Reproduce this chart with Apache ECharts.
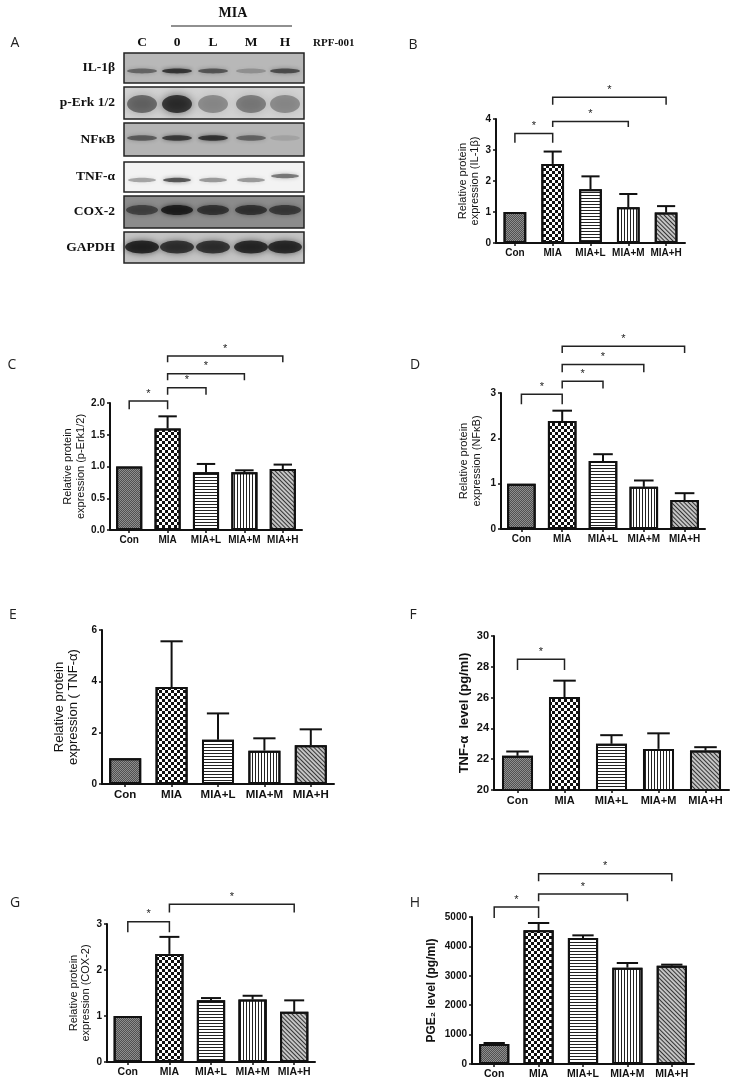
<!DOCTYPE html>
<html>
<head>
<meta charset="utf-8">
<script src="https://cdn.jsdelivr.net/npm/echarts@6/dist/echarts.min.js"></script>
<style>
html,body{margin:0;padding:0;background:#fff;}
#c{width:739px;height:1085px;}
</style>
</head>
<body>
<div id="c"></div>
<script>
// ---------- data ----------
const categories = ['Con', 'MIA', 'MIA+L', 'MIA+M', 'MIA+H'];

const bMean = [1.0, 2.55, 1.73, 1.15, 0.98];
const bErr  = [0, 0.40, 0.42, 0.43, 0.21];
const cMean = [1.0, 1.60, 0.91, 0.91, 0.96];
const cErr  = [0, 0.19, 0.13, 0.03, 0.07];
const dMean = [1.0, 2.38, 1.50, 0.93, 0.64];
const dErr  = [0, 0.23, 0.15, 0.14, 0.15];
const eMean = [1.0, 3.78, 1.72, 1.30, 1.51];
const eErr  = [0, 1.78, 1.03, 0.48, 0.62];
const fMean = [22.22, 26.04, 23.0, 22.67, 22.56];
const fErr  = [0.28, 1.06, 0.56, 1.01, 0.22];
const gMean = [1.0, 2.35, 1.34, 1.36, 1.09];
const gErr  = [0, 0.37, 0.05, 0.08, 0.25];
const hMean = [680, 4546, 4286, 3277, 3345];
const hErr  = [34, 250, 90, 158, 34];

// significance brackets: [fromIndex, toIndex, level, legEnd]
const bSig = [[0, 1, 3.53, 3.23], [1, 3, 3.92, 3.74], [1, 4, 4.70, 4.46]];
const cSig = [[0, 1, 2.03, 1.90], [1, 2, 2.24, 2.13], [1, 3, 2.46, 2.36], [1, 4, 2.74, 2.64]];
const dSig = [[0, 1, 2.97, 2.75], [1, 2, 3.26, 3.10], [1, 3, 3.63, 3.46], [1, 4, 4.03, 3.88]];
const eSig = [];
const fSig = [[0, 1, 28.49, 27.8]];
const gSig = [[0, 1, 3.05, 2.82], [1, 4, 3.43, 3.25]];
const hSig = [[0, 1, 5340, 4966], [1, 3, 5782, 5533], [1, 4, 6474, 6213]];

const bTicks = [0, 4, 1];
const cTicks = [0, 2, 0.5];
const dTicks = [0, 3, 1];
const eTicks = [0, 6, 2];
const fTicks = [20, 30, 2];
const gTicks = [0, 3, 1];
const hTicks = [0, 5000, 1000];

// western blot (panel A)
const laneLabels = ['C', '0', 'L', 'M', 'H'];
const blotNames = ['IL-1β', 'p-Erk 1/2', 'NFκB', 'TNF-α', 'COX-2', 'GAPDH'];
const il1bBands  = [0.50, 0.80, 0.60, 0.25, 0.65];
const perkBands  = [0.55, 0.85, 0.38, 0.45, 0.38];
const nfkbBands  = [0.55, 0.75, 0.80, 0.50, 0.12];
const tnfBands   = [0.35, 0.70, 0.40, 0.40, 0.55];
const cox2Bands  = [0.60, 0.92, 0.72, 0.72, 0.66];
const gapdhBands = [0.92, 0.82, 0.82, 0.88, 0.88];

// ---------- styles ----------
const SANS = '"Liberation Sans", Arial, sans-serif';
const SERIF = '"Liberation Serif", "Times New Roman", serif';
const INK = '#111';

const barStyles = [
  { color: '#8e8e8e', borderColor: INK, borderWidth: 2,
    decal: { symbol: 'rect', symbolSize: 1, symbolKeepAspect: false, color: 'rgba(30,30,30,0.55)',
             dashArrayX: [[1, 1], [0, 1, 1, 0]], dashArrayY: [1, 0] } },
  { color: '#ffffff', borderColor: INK, borderWidth: 2,
    decal: { symbol: 'rect', symbolSize: 1, symbolKeepAspect: false, color: '#111',
             dashArrayX: [[3, 3], [0, 3, 3, 0]], dashArrayY: [3, 0] } },
  { color: '#ffffff', borderColor: INK, borderWidth: 2,
    decal: { symbol: 'rect', symbolSize: 1, symbolKeepAspect: false, color: '#222',
             dashArrayX: [8, 0], dashArrayY: [1, 2] } },
  { color: '#ffffff', borderColor: INK, borderWidth: 2,
    decal: { symbol: 'rect', symbolSize: 1, symbolKeepAspect: false, color: '#222',
             dashArrayX: [1, 2], dashArrayY: [8, 0] } },
  { color: '#c4c4c4', borderColor: INK, borderWidth: 2,
    decal: { symbol: 'rect', symbolSize: 1, symbolKeepAspect: false, color: '#333',
             dashArrayX: [8, 0], dashArrayY: [1, 2], rotation: Math.PI / 4 } }
];

function errRender(params, api) {
  const x = api.value(0), m = api.value(1), e = api.value(2);
  if (!e) return { type: 'group', children: [] };
  const p0 = api.coord([x, m]), p1 = api.coord([x, m + e]);
  const cw = api.size([1, 0])[0] * 0.24;
  return { type: 'group', children: [
    { type: 'line', shape: { x1: p0[0], y1: p0[1], x2: p1[0], y2: p1[1] }, style: { stroke: INK, lineWidth: 2 } },
    { type: 'line', shape: { x1: p1[0] - cw, y1: p1[1], x2: p1[0] + cw, y2: p1[1] }, style: { stroke: INK, lineWidth: 2 } }
  ] };
}

function sigRender(params, api) {
  const a = api.value(0), b = api.value(1), lv = api.value(2), leg = api.value(3);
  const pa = api.coord([a, lv]), pb = api.coord([b, lv]), pl = api.coord([a, leg]);
  return { type: 'group', children: [
    { type: 'polyline', shape: { points: [[pa[0], pl[1]], [pa[0], pa[1]], [pb[0], pa[1]], [pb[0], pl[1]]] },
      style: { stroke: '#222', lineWidth: 1.5, fill: null } },
    { type: 'text', style: { text: '*', x: (pa[0] + pb[0]) / 2, y: pa[1] - 2, align: 'center', verticalAlign: 'bottom',
      fontSize: 11, fontFamily: SANS, fill: '#222' } }
  ] };
}

const grids = [], xAxes = [], yAxes = [], series = [];

function panel(cfg) {
  const gi = grids.length;
  grids.push(Object.assign({ containLabel: false }, cfg.grid));
  xAxes.push({
    type: 'category', gridIndex: gi, data: categories,
    axisLine: { lineStyle: { color: INK, width: 2 } },
    axisTick: { show: true, alignWithLabel: true, length: 3, lineStyle: { color: INK, width: 1.5 } },
    axisLabel: { color: INK, fontFamily: SANS, fontWeight: 'bold', fontSize: cfg.xFont, margin: 5, interval: 0 },
    splitLine: { show: false }
  });
  yAxes.push({
    type: 'value', gridIndex: gi, min: cfg.ticks[0], max: cfg.ticks[1], interval: cfg.ticks[2],
    name: cfg.name, nameLocation: 'middle', nameGap: cfg.nameGap, nameRotate: 90,
    nameTextStyle: { color: INK, fontFamily: SANS, fontSize: cfg.nameFont, fontWeight: cfg.nameWeight || 'normal', lineHeight: cfg.nameFont + 1.5 },
    axisLine: { show: true, lineStyle: { color: INK, width: 2 } },
    axisTick: { show: true, length: 3, lineStyle: { color: INK, width: 1.5 } },
    axisLabel: { color: INK, fontFamily: SANS, fontWeight: 'bold', fontSize: cfg.yFont || 10, margin: 5,
                 formatter: cfg.fmt || (v => String(v)) },
    splitLine: { show: false }
  });
  series.push({
    type: 'bar', xAxisIndex: gi, yAxisIndex: gi, barWidth: cfg.barWidth, silent: true,
    data: cfg.mean.map((v, i) => ({ value: v, itemStyle: barStyles[i] })),
    z: 2
  });
  series.push({
    type: 'custom', xAxisIndex: gi, yAxisIndex: gi, renderItem: errRender, silent: true, clip: false, z: 3,
    encode: { x: 0, y: 1 },
    data: cfg.mean.map((v, i) => [i, v, cfg.err[i]])
  });
  if (cfg.sig.length) {
    series.push({
      type: 'custom', xAxisIndex: gi, yAxisIndex: gi, renderItem: sigRender, silent: true, clip: false, z: 4,
      encode: { x: [0, 1], y: [2, 3] },
      data: cfg.sig
    });
  }
}

panel({ grid: { left: 496, top: 119, width: 189, height: 124 }, mean: bMean, err: bErr, sig: bSig, ticks: bTicks,
  name: 'Relative protein\nexpression (IL-1β)', nameGap: 13, nameFont: 11, xFont: 10, barWidth: '60%' });
panel({ grid: { left: 110, top: 403, width: 192, height: 127 }, mean: cMean, err: cErr, sig: cSig, ticks: cTicks,
  name: 'Relative protein\nexpression (p-Erk1/2)', nameGap: 21, nameFont: 11, xFont: 10, barWidth: '68%',
  fmt: v => v.toFixed(1) });
panel({ grid: { left: 501, top: 393, width: 204, height: 136 }, mean: dMean, err: dErr, sig: dSig, ticks: dTicks,
  name: 'Relative protein\nexpression (NFκB)', nameGap: 18, nameFont: 11, xFont: 10, barWidth: '70%' });
panel({ grid: { left: 102, top: 630, width: 232, height: 154 }, mean: eMean, err: eErr, sig: eSig, ticks: eTicks,
  name: 'Relative protein\nexpression ( TNF-α)', nameGap: 21, nameFont: 13, xFont: 11.5, barWidth: '69%' });
panel({ grid: { left: 494, top: 636, width: 235, height: 154 }, mean: fMean, err: fErr, sig: fSig, ticks: fTicks,
  name: 'TNF-α  level (pg/ml)', nameGap: 22, nameFont: 13, nameWeight: 'bold', xFont: 11, yFont: 11, barWidth: '66%' });
panel({ grid: { left: 107, top: 924, width: 208, height: 138 }, mean: gMean, err: gErr, sig: gSig, ticks: gTicks,
  name: 'Relative protein\nexpression (COX-2)', nameGap: 14, nameFont: 11, xFont: 10.5, barWidth: '68%' });
panel({ grid: { left: 472, top: 917, width: 222, height: 147 }, mean: hMean, err: hErr, sig: hSig, ticks: hTicks,
  name: 'PGE₂ level (pg/ml)', nameGap: 34, nameFont: 12, nameWeight: 'bold', xFont: 10.5, barWidth: '68%' });

// ---------- panel A: western blot drawing ----------
const graphics = [];
const laneX = [142, 177, 213, 251, 285];
const rowGeom = [
  { top: 53, h: 30, bg: '#b8b8b8', cy: 71, rx: 15, ry: 2.4, blur: 4, bands: il1bBands },
  { top: 87, h: 32, bg: '#d2d2d2', cy: 104, rx: 15, ry: 9, blur: 9, bands: perkBands },
  { top: 123, h: 33, bg: '#b4b4b4', cy: 138, rx: 15, ry: 2.8, blur: 4, bands: nfkbBands },
  { top: 162, h: 30, bg: '#f3f3f3', cy: 180, rx: 14, ry: 2.3, blur: 4, bands: tnfBands },
  { top: 196, h: 32, bg: '#8c8c8c', cy: 210, rx: 16, ry: 5, blur: 5, bands: cox2Bands },
  { top: 232, h: 31, bg: '#c4c4c4', cy: 247, rx: 17, ry: 6.5, blur: 6, bands: gapdhBands }
];
rowGeom.forEach((r, ri) => {
  const kids = [];
  kids.push({ type: 'rect', shape: { x: 124, y: r.top, width: 180, height: r.h }, style: { fill: r.bg, stroke: 'none' } });
  r.bands.forEach((a, li) => {
    const cy = (ri === 3 && li === 4) ? r.cy - 4 : r.cy;
    kids.push({ type: 'ellipse', shape: { cx: laneX[li], cy: cy, rx: r.rx, ry: r.ry },
      style: { fill: 'rgba(15,15,15,' + (a * 0.85) + ')', shadowBlur: r.blur, shadowColor: 'rgba(15,15,15,' + (a * 0.9) + ')' } });
  });
  kids.push({ type: 'rect', shape: { x: 124, y: r.top, width: 180, height: r.h }, style: { fill: 'none', stroke: '#222', lineWidth: 1.5 } });
  graphics.push({ type: 'group', children: kids });
  graphics.push({ type: 'text', x: 115, y: r.top + r.h / 2,
    style: { text: blotNames[ri], align: 'right', verticalAlign: 'middle', font: 'bold 13.5px ' + SERIF, fill: '#111' } });
});
laneLabels.forEach((t, i) => {
  graphics.push({ type: 'text', x: laneX[i], y: 43,
    style: { text: t, align: 'center', verticalAlign: 'middle', font: 'bold 13.5px ' + SERIF, fill: '#111' } });
});
graphics.push({ type: 'text', x: 233, y: 13, style: { text: 'MIA', align: 'center', verticalAlign: 'middle', font: 'bold 14px ' + SERIF, fill: '#111' } });
graphics.push({ type: 'line', shape: { x1: 171, y1: 26, x2: 292, y2: 26 }, style: { stroke: '#222', lineWidth: 1.2 } });
graphics.push({ type: 'text', x: 313, y: 43, style: { text: 'RPF-001', align: 'left', verticalAlign: 'middle', font: 'bold 11px ' + SERIF, fill: '#111' } });

const letters = [['A', 15, 43], ['B', 413, 45], ['C', 12, 365], ['D', 415, 365], ['E', 13, 615], ['F', 413, 615], ['G', 15, 903], ['H', 415, 903]];
letters.forEach(l => {
  graphics.push({ type: 'text', x: l[1], y: l[2], style: { text: l[0], align: 'center', verticalAlign: 'middle',
    font: '14px "Open Sans", "Noto Sans", sans-serif', fill: '#222' } });
});

const chart = echarts.init(document.getElementById('c'), null, { renderer: 'canvas', width: 739, height: 1085 });
chart.setOption({
  backgroundColor: '#ffffff',
  animation: false,
  grid: grids,
  xAxis: xAxes,
  yAxis: yAxes,
  series: series,
  graphic: graphics
});
</script>
</body>
</html>
